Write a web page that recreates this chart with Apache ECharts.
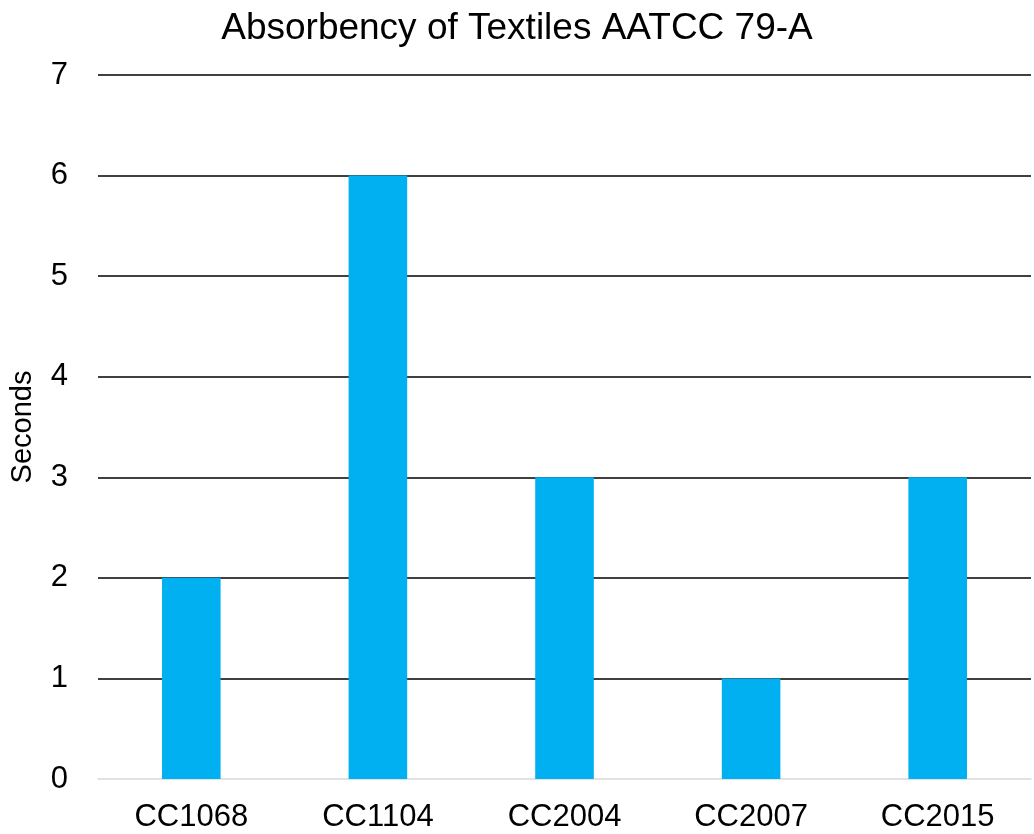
<!DOCTYPE html>
<html>
<head>
<meta charset="utf-8">
<script src="https://cdn.jsdelivr.net/npm/echarts@6/dist/echarts.min.js"></script>
<style>
  html, body { margin: 0; padding: 0; background: #fff; }
  #chart { width: 1034px; height: 834px; }
</style>
</head>
<body>
<div id="chart"></div>
<script>
// Absorbency test results (seconds) per textile sample
const categories = ['CC1068', 'CC1104', 'CC2004', 'CC2007', 'CC2015'];
const seconds = [2, 6, 3, 1, 3];
const yTicks = { min: 0, max: 7, interval: 1 };

const font = '"Liberation Sans", Arial, sans-serif';
const chart = echarts.init(document.getElementById('chart'));
chart.setOption({
  backgroundColor: '#ffffff',
  animation: false,
  title: {
    text: 'Absorbency of Textiles AATCC 79-A',
    left: 'center',
    top: 5,
    textStyle: { fontFamily: font, fontSize: 37, fontWeight: 'normal', color: '#000' }
  },
  grid: { left: 98, right: 3, top: 75, bottom: 55, outerBoundsMode: 'none', containLabel: false },
  xAxis: {
    type: 'category',
    data: categories,
    axisTick: { show: false },
    axisLine: { show: true, lineStyle: { color: '#d9d9d9', width: 1.5 } },
    axisLabel: { fontFamily: font, fontSize: 31, color: '#000', margin: 23 }
  },
  yAxis: {
    type: 'value',
    min: yTicks.min,
    max: yTicks.max,
    interval: yTicks.interval,
    name: 'Seconds',
    nameLocation: 'middle',
    nameGap: 61,
    nameTextStyle: { fontFamily: font, fontSize: 29, color: '#000' },
    axisLine: { show: false },
    axisTick: { show: false },
    axisLabel: { fontFamily: font, fontSize: 31, color: '#000', margin: 30 },
    splitLine: {
      show: true,
      lineStyle: { color: '#000', width: 1.5 },
      showMinLine: false
    }
  },
  series: [{
    type: 'bar',
    data: seconds,
    barWidth: '31.4%',
    itemStyle: { color: '#00B0F0' }
  }]
});
</script>
</body>
</html>
